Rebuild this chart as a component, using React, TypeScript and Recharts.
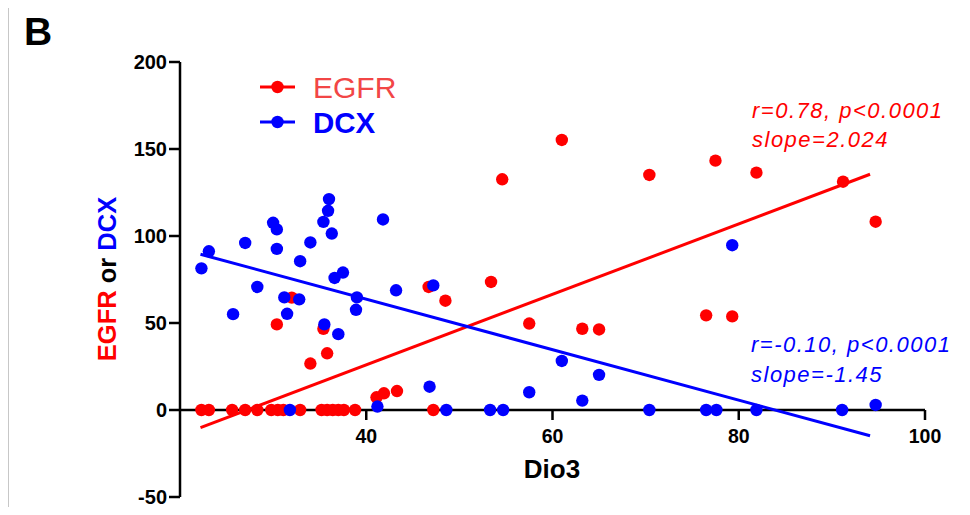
import { ScatterChart, Scatter, XAxis, YAxis, ReferenceLine } from 'recharts';

// EGFR vs Dio3 (red)
const egfrX = [
  22.3, 23.1, 25.6, 27.0, 28.3, 29.8, 30.5, 31.1, 32.9, 35.2, 35.8, 36.4, 37.0, 37.6, 38.8, 47.2,
  32.0, 30.4, 35.4, 35.8, 34.0, 41.1, 41.9, 43.3, 46.7, 48.5, 53.4, 54.6, 57.5, 61.0, 63.2, 65.0,
  70.4, 76.5, 77.5, 79.3, 81.9, 91.2, 94.7,
];
const egfrY = [
  0, 0, 0, 0, 0, 0, 0, 0, 0, 0, 0, 0, 0, 0, 0, 0,
  64.6, 49.2, 46.7, 32.6, 26.7, 7.3, 9.6, 10.9, 70.7, 62.8, 73.6, 132.6, 49.7, 155.2, 46.7, 46.3,
  135.1, 54.4, 143.3, 53.8, 136.4, 131.2, 108.2,
];

// DCX vs Dio3 (blue)
const dcxX = [
  22.3, 23.1, 25.7, 27.0, 28.3, 30.0, 30.4, 30.4, 31.2, 31.5, 32.8, 32.9, 34.0, 35.4, 35.9, 36.0,
  36.3, 35.5, 36.6, 37.0, 37.5, 38.9, 39.0, 41.8, 43.2, 47.2, 31.8, 41.2, 46.8, 48.6, 53.3, 54.7,
  57.5, 61.0, 63.2, 65.0, 70.4, 76.5, 77.6, 79.3, 81.9, 91.1, 94.7,
];
const dcxY = [
  81.4, 91.2, 55.1, 96.0, 70.7, 107.6, 103.8, 92.6, 64.7, 55.3, 63.6, 85.5, 96.3, 108.1, 114.5, 121.2,
  101.4, 49.2, 75.9, 43.6, 79.0, 57.6, 64.7, 109.5, 68.8, 71.6, 0, 2, 13.4, 0, 0, 0,
  10.2, 28.2, 5.4, 20.2, 0, 0, 0, 94.7, 0, 0, 2.9,
];

// regression line end points
const egfrFitX = [22.2, 94.1];
const egfrFitY = [-10.1, 135.5];
const dcxFitX = [22.2, 94.1];
const dcxFitY = [89.5, -14.8];

const xTicks = [40, 60, 80, 100];
const yTicks = [-50, 0, 50, 100, 150, 200];

const toPoints = (xs: number[], ys: number[]) => xs.map((x, i) => ({ x, y: ys[i] }));

const egfrData = toPoints(egfrX, egfrY);
const dcxData = toPoints(dcxX, dcxY);
const egfrFit = toPoints(egfrFitX, egfrFitY);
const dcxFit = toPoints(dcxFitX, dcxFitY);

const FONT = '"Liberation Sans", Arial, Helvetica, sans-serif';
const RED = '#ff0000';
const BLUE = '#0000ff';

const TOP = 62;
const PLOT_H = 435;
// y pixel of value 0 inside the chart (x axis crosses there)
const ZERO_Y = TOP + (PLOT_H * 200) / 250;

const renderXTick = (props: any) => {
  const { x, payload } = props;
  return (
    <g key={`xt-${payload.value}`}>
      <line x1={x} x2={x} y1={ZERO_Y} y2={ZERO_Y + 10} stroke="#000" strokeWidth={2.5} />
      <text x={x} y={ZERO_Y + 33} textAnchor="middle" fontFamily={FONT} fontWeight="bold" fontSize={19.5} fill="#000">
        {payload.value}
      </text>
    </g>
  );
};

const dot = (color: string) => (p: any) => <circle cx={p.cx} cy={p.cy} r={6.2} fill={color} />;

export default function App() {
  return (
    <div style={{ position: 'relative', width: 970, height: 515, margin: -8, background: '#fff' }}>
      <ScatterChart width={970} height={515} margin={{ top: TOP, right: 45, bottom: 0, left: 0 }}>
        <XAxis
          type="number"
          dataKey="x"
          domain={[20, 100]}
          ticks={xTicks}
          interval={0}
          height={18}
          axisLine={false}
          tickLine={false}
          tick={renderXTick}
          allowDataOverflow
        />
        <YAxis
          type="number"
          dataKey="y"
          domain={[-50, 200]}
          ticks={yTicks}
          width={180}
          interval={0}
          axisLine={{ stroke: '#000', strokeWidth: 2.5 }}
          tickLine={{ stroke: '#000', strokeWidth: 2.5 }}
          tickSize={11}
          tickMargin={2}
          tick={{ fill: '#000', fontSize: 20, fontWeight: 'bold', fontFamily: FONT }}
          allowDataOverflow
        />
        <ReferenceLine y={0} stroke="#000" strokeWidth={2.5} />
        <Scatter data={egfrFit} line={{ stroke: RED, strokeWidth: 3 }} shape={() => <g />} isAnimationActive={false} />
        <Scatter data={dcxFit} line={{ stroke: BLUE, strokeWidth: 3 }} shape={() => <g />} isAnimationActive={false} />
        <Scatter data={egfrData} shape={dot(RED)} isAnimationActive={false} />
        <Scatter data={dcxData} shape={dot(BLUE)} isAnimationActive={false} />
      </ScatterChart>

      <svg
        width={970}
        height={515}
        style={{ position: 'absolute', left: 0, top: 0, pointerEvents: 'none' }}
        fontFamily={FONT}
      >
        {/* frame */}
        <line x1={6} x2={970} y1={3} y2={3} stroke="#222" strokeWidth={2.5} />
        <line x1={7} x2={7} y1={2} y2={515} stroke="#222" strokeWidth={2.5} />

        <text x={24} y={45} fontSize={39} fontWeight="bold" fill="#000">B</text>

        {/* legend */}
        <line x1={260} x2={295} y1={87} y2={87} stroke={RED} strokeWidth={3} />
        <circle cx={277.5} cy={87} r={6.2} fill={RED} />
        <text x={313} y={97.5} fontSize={30} fill="#f24646">EGFR</text>
        <line x1={260} x2={295} y1={122} y2={122} stroke={BLUE} strokeWidth={3} />
        <circle cx={277.5} cy={122} r={6.2} fill={BLUE} />
        <text x={313} y={132.5} fontSize={29.5} fontWeight="bold" fill={BLUE}>DCX</text>

        {/* y axis title */}
        <text
          x={107}
          y={279}
          transform="rotate(-90, 107, 279)"
          textAnchor="middle"
          dominantBaseline="central"
          fontSize={25.5}
          fontWeight="bold"
        >
          <tspan fill={RED}>EGFR</tspan>
          <tspan fill="#000"> or </tspan>
          <tspan fill={BLUE}>DCX</tspan>
        </text>

        {/* x axis title */}
        <text x={552} y={478} textAnchor="middle" fontSize={26} fontWeight="bold" fill="#000">Dio3</text>

        {/* stats */}
        <g fontSize={22} fontStyle="italic" letterSpacing={1.5}>
          <text x={752} y={118} fill={RED}>r=0.78, p&lt;0.0001</text>
          <text x={752} y={147} fill={RED}>slope=2.024</text>
          <text x={751} y={352} fill={BLUE}>r=-0.10, p&lt;0.0001</text>
          <text x={751} y={382} fill={BLUE}>slope=-1.45</text>
        </g>
      </svg>
    </div>
  );
}
